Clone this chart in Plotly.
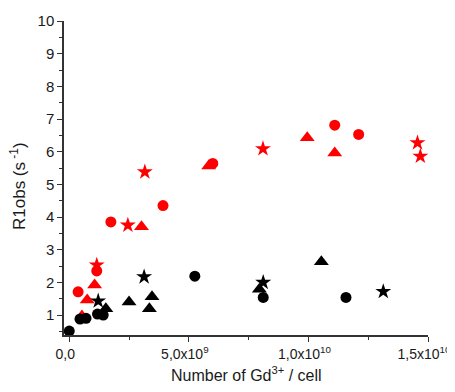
import plotly.graph_objects as go

# data (x in units of Gd3+ per cell, y = R1obs in s^-1)
red_circle_x = [0.37e9, 1.15e9, 1.74e9, 3.92e9, 6.0e9, 11.1e9, 12.1e9]
red_circle_y = [1.71, 2.35, 3.85, 4.35, 5.64, 6.81, 6.53]

red_tri_x = [0.53e9, 0.75e9, 1.06e9, 3.02e9, 5.83e9, 9.95e9, 11.1e9]
red_tri_y = [0.97, 1.46, 1.92, 3.70, 5.56, 6.43, 5.96]

red_star_x = [1.15e9, 2.45e9, 3.16e9, 8.1e9, 14.56e9, 14.68e9]
red_star_y = [2.53, 3.75, 5.38, 6.09, 6.27, 5.86]

black_circle_x = [0.0, 0.45e9, 0.7e9, 1.18e9, 1.42e9, 5.25e9, 8.11e9, 11.57e9]
black_circle_y = [0.51, 0.88, 0.90, 1.03, 1.00, 2.19, 1.54, 1.54]

black_tri_x = [1.53e9, 2.5e9, 3.46e9, 3.35e9, 7.95e9, 10.54e9]
black_tri_y = [1.19, 1.40, 1.56, 1.19, 1.79, 2.63]

black_star_x = [1.21e9, 3.13e9, 8.11e9, 13.13e9]
black_star_y = [1.43, 2.17, 2.00, 1.72]

x_tickvals = [0, 5e9, 1e10, 1.5e10]
x_ticktext = ["0,0", "5,0x10<sup>9</sup>", "1,0x10<sup>10</sup>", "1,5x10<sup>10</sup>"]
y_tickvals = [1, 2, 3, 4, 5, 6, 7, 8, 9, 10]

RED = "#ff0000"
BLK = "#000000"

fig = go.Figure()

def add(xs, ys, color, symbol, size):
    fig.add_trace(go.Scatter(x=xs, y=ys, mode="markers",
                             marker=dict(color=color, symbol=symbol, size=size,
                                         line=dict(width=0)),
                             showlegend=False))

add(red_circle_x, red_circle_y, RED, "circle", 11)
add(red_tri_x, red_tri_y, RED, "triangle-up", 13)
add(red_star_x, red_star_y, RED, "star", 12)
add(black_circle_x, black_circle_y, BLK, "circle", 11)
add(black_tri_x, black_tri_y, BLK, "triangle-up", 13)
add(black_star_x, black_star_y, BLK, "star", 12)

font = "Liberation Sans, Arial, sans-serif"
AX = "#333333"

# the page body has an 8px margin; the figure is sized so the plot area lands
# where it is in the reference
fig.update_layout(
    width=447, height=376,
    margin=dict(l=56, r=27, t=13, b=49),
    paper_bgcolor="white", plot_bgcolor="white",
    font=dict(family=font, size=15, color="#1a1a1a"),
    xaxis=dict(range=[-0.22e9, 1.5e10], showgrid=False, zeroline=False,
               showline=True, linecolor=AX, linewidth=1.5, automargin=False,
               ticks="outside", ticklen=5, tickwidth=1.3, tickcolor=AX,
               tickmode="array", tickvals=x_tickvals, ticktext=x_ticktext,
               tickfont=dict(size=14), ticklabeloverflow="allow",
               ticklabelshift=-4,
               minor=dict(tickmode="array", tickvals=[2.5e9, 7.5e9, 12.5e9],
                          ticklen=3, tickwidth=1.3, tickcolor=AX, ticks="outside")),
    yaxis=dict(range=[0.39, 10], showgrid=False, zeroline=False,
               showline=True, linecolor=AX, linewidth=1.5, automargin=False,
               ticks="outside", ticklen=5, tickwidth=1.3, tickcolor=AX,
               tickmode="array", tickvals=y_tickvals,
               tickfont=dict(size=15),
               minor=dict(tickmode="array",
                          tickvals=[0.5, 1.5, 2.5, 3.5, 4.5, 5.5, 6.5, 7.5, 8.5, 9.5],
                          ticklen=3, tickwidth=1.3, tickcolor=AX, ticks="outside")),
    annotations=[
        dict(text="R1obs (s<sup> -1</sup>)", textangle=-90, showarrow=False,
             xref="paper", yref="paper", x=-46 / 364, y=(335 - 186) / 314,
             xanchor="center", yanchor="middle", font=dict(size=17, color="#1a1a1a")),
        dict(text="Number of Gd<sup>3+</sup> / cell", showarrow=False,
             xref="paper", yref="paper", x=(246 - 64) / 364, y=-(374 - 335) / 314,
             xanchor="center", yanchor="middle", font=dict(size=16, color="#1a1a1a")),
    ],
)

fig.write_html("out.html")
